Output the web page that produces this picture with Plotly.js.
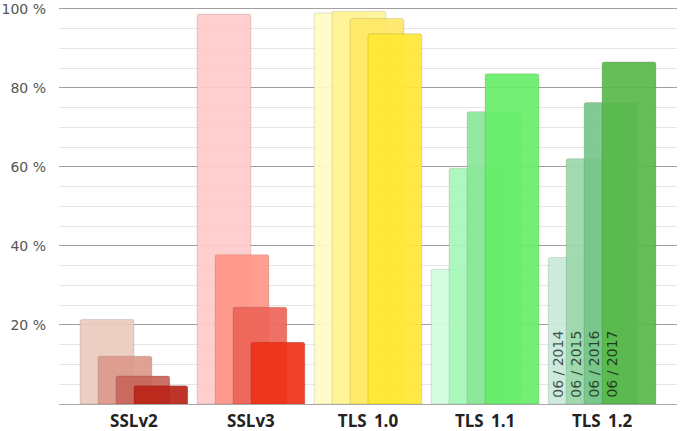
<!DOCTYPE html>
<html>
<head>
<meta charset="utf-8">
<script src="https://cdn.plot.ly/plotly-3.0.1.min.js"></script>
<style>html,body{margin:0;padding:0;background:#fff;}#chart{width:680px;height:431px;}</style>
</head>
<body>
<div id="chart"></div>
<script>
const categories = ["SSLv2", "SSLv3", "TLS\u2009 1.0", "TLS\u2009 1.1", "TLS\u2009 1.2"];
const periods = ["06 / 2014", "06 / 2015", "06 / 2016", "06 / 2017"];
const values2014 = [21.4, 98.7, 99.0, 34.1, 37.1];
const values2015 = [12.1, 37.8, 99.4, 59.7, 62.1];
const values2016 = [7.1, 24.5, 97.6, 74.0, 76.3];
const values2017 = [4.6, 15.6, 93.7, 83.6, 86.6];
const yTickVals = [20, 40, 60, 80, 100];
const yTickText = ["20 %", "40 %", "60 %", "80 %", "100 %"];

const colors2014 = ["#ebcbbd", "#ffcaca", "#fffcc6", "#d2fcdf", "#c8eadb"];
const colors2015 = ["#dc9a8c", "#ff9688", "#fff594", "#a8f7b9", "#9bd9aa"];
const colors2016 = ["#c9665a", "#ee6458", "#ffe866", "#8ae898", "#77c68a"];
const colors2017 = ["#bb2418", "#ee3216", "#ffe833", "#68ee6a", "#58b94a"];

const seriesValues = [values2014, values2015, values2016, values2017];
const seriesColors = [colors2014, colors2015, colors2016, colors2017];

const barW = 0.46;
const step = barW / 3;

const traces = seriesValues.map((vals, i) => ({
  type: "bar",
  x: categories,
  y: vals,
  name: periods[i],
  offset: -barW + step * i,
  width: barW,
  marker: {
    color: seriesColors[i],
    opacity: 0.92,
    line: {color: "rgba(0,0,0,0.12)", width: 1},
    cornerradius: 2
  },
  hoverinfo: "x+y+name"
}));

const labelCat = categories.length - 1;
const annotations = periods.map((p, i) => ({
  x: labelCat - barW + step * i + step / 2,
  y: 0,
  xref: "x",
  yref: "y",
  text: p,
  textangle: -90,
  showarrow: false,
  xanchor: "center",
  yanchor: "bottom",
  yshift: 4,
  font: {family: "DejaVu Sans, sans-serif", size: 14, color: "rgba(0,0,0,0.68)"}
}));

const layout = {
  width: 680,
  height: 431,
  margin: {l: 59, r: 3, t: 5, b: 27},
  paper_bgcolor: "#fff",
  plot_bgcolor: "#fff",
  barmode: "overlay",
  showlegend: false,
  xaxis: {
    type: "category",
    range: [-0.64, 4.64],
    showgrid: false,
    showline: true,
    linecolor: "#a8a8a8",
    linewidth: 1,
    ticks: "",
    tickfont: {family: "Open Sans, sans-serif", size: 17, color: "#222", weight: "bold"},
    ticklabelstandoff: 2,
    zeroline: false
  },
  yaxis: {
    range: [0, 101],
    tickvals: yTickVals,
    ticktext: yTickText,
    showgrid: true,
    gridcolor: "#a0a0a0",
    gridwidth: 1,
    zeroline: false,
    showline: false,
    ticks: "",
    ticklabelstandoff: 12,
    ticklabeloverflow: "allow",
    tickfont: {family: "DejaVu Sans, sans-serif", size: 14, color: "#555"},
    minor: {dtick: 5, showgrid: true, gridcolor: "#e6e6e6", gridwidth: 1}
  },
  annotations: annotations
};

Plotly.newPlot("chart", traces, layout, {displayModeBar: false, staticPlot: true});
</script>
</body>
</html>
